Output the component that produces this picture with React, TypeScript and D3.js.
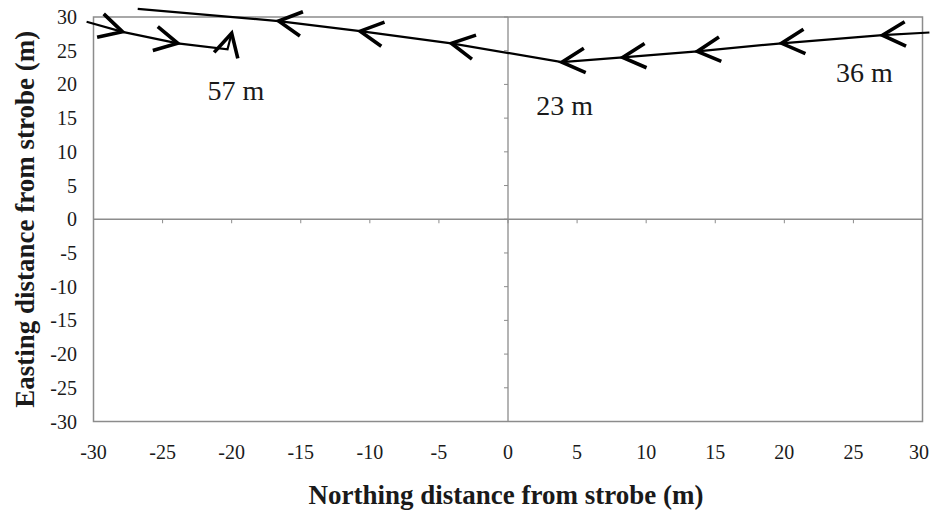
import React from "react";
import * as d3 from "d3";

const xTicks = [-30, -25, -20, -15, -10, -5, 0, 5, 10, 15, 20, 25, 30];
const yTicks = [30, 25, 20, 15, 10, 5, 0, -5, -10, -15, -20, -25, -30];

// Track moving right-to-left (23 m / 36 m)
const trackAx = [30.5, 27.1, 19.8, 13.7, 8.3, 3.9, -4.1, -10.7, -16.6, -26.8];
const trackAy = [27.7, 27.3, 26.1, 24.9, 24.0, 23.3, 26.1, 27.9, 29.4, 31.2];
const trackAArrows = [false, true, true, true, true, true, true, true, true, false];

// Track moving left-to-right (57 m)
const trackBx = [-30.5, -27.9, -23.9, -20.3, -20.0];
const trackBy = [29.3, 27.8, 26.1, 25.2, 27.6];
const trackBArrows = [false, true, true, false, true];

const labelText = ["57 m", "23 m", "36 m"];
const labelX = [-19.7, 4.1, 25.8];
const labelY = [17.7, 15.5, 20.4];

const W = 930;
const H = 510;

export default function App() {
  const x = d3.scaleLinear().domain([-30, 30]).range([93.5, 922.5]);
  const y = d3.scaleLinear().domain([-30, 30]).range([421.5, 17]);
  const line = d3
    .line<[number, number]>()
    .x((d) => x(d[0]))
    .y((d) => y(d[1]));

  const arrowPaths = (xs: number[], ys: number[], flags: boolean[]) => {
    const out: string[] = [];
    for (let i = 1; i < xs.length; i++) {
      if (!flags[i]) continue;
      const tx = x(xs[i]);
      const ty = y(ys[i]);
      const px = x(xs[i - 1]);
      const py = y(ys[i - 1]);
      const th = Math.atan2(ty - py, tx - px);
      const L = 26;
      const a = (28 * Math.PI) / 180;
      const b = th + Math.PI;
      const x1 = tx + L * Math.cos(b + a);
      const y1 = ty + L * Math.sin(b + a);
      const x2 = tx + L * Math.cos(b - a);
      const y2 = ty + L * Math.sin(b - a);
      out.push(`M${x1},${y1}L${tx},${ty}L${x2},${y2}`);
    }
    return out;
  };

  const trackA = trackAx.map((v, i) => [v, trackAy[i]] as [number, number]);
  const trackB = trackBx.map((v, i) => [v, trackBy[i]] as [number, number]);
  const arrowsA = arrowPaths(trackAx, trackAy, trackAArrows);
  const arrowsB = arrowPaths(trackBx, trackBy, trackBArrows);

  const font = "'Liberation Serif', 'Times New Roman', serif";
  const axisColor = "#8c8c8c";
  const textColor = "#1a1a1a";

  return (
    <svg
      width={W}
      height={H}
      style={{ position: "absolute", left: 0, top: 0, background: "#fff" }}
      fontFamily={font}
    >
      <rect x={0} y={0} width={W} height={H} fill="#fff" />
      {/* plot box */}
      <rect
        x={x(-30)}
        y={y(30)}
        width={x(30) - x(-30)}
        height={y(-30) - y(30)}
        fill="none"
        stroke={axisColor}
        strokeWidth={1.5}
      />
      {/* zero axes */}
      <line x1={x(-30)} x2={x(30)} y1={y(0)} y2={y(0)} stroke={axisColor} strokeWidth={1.3} />
      <line x1={x(0)} x2={x(0)} y1={y(30)} y2={y(-30)} stroke={axisColor} strokeWidth={1.3} />
      {yTicks.map((t) => (
        <line key={"yt" + t} x1={x(0) - 4} x2={x(0)} y1={y(t)} y2={y(t)} stroke={axisColor} strokeWidth={1} />
      ))}
      {xTicks.map((t) => (
        <line key={"xt" + t} x1={x(t)} x2={x(t)} y1={y(0)} y2={y(0) + 4} stroke={axisColor} strokeWidth={1} />
      ))}
      {/* tick labels */}
      {yTicks.map((t) => (
        <text key={"yl" + t} x={77} y={y(t)} dy="0.35em" textAnchor="end" fontSize={20} fill={textColor}>
          {t}
        </text>
      ))}
      {xTicks.map((t) => (
        <text
          key={"xl" + t}
          x={t === 30 ? W - 1 : x(t)}
          y={459}
          textAnchor={t === 30 ? "end" : "middle"}
          fontSize={20}
          fill={textColor}
        >
          {t}
        </text>
      ))}
      {/* axis titles */}
      <text x={506} y={504} textAnchor="middle" fontSize={27} fontWeight="bold" fill={textColor}>
        Northing distance from strobe (m)
      </text>
      <text
        transform={`translate(34,${y(0)}) rotate(-90)`}
        textAnchor="middle"
        fontSize={27}
        fontWeight="bold"
        fill={textColor}
      >
        Easting distance from strobe (m)
      </text>
      {/* tracks */}
      <path d={line(trackA) || ""} fill="none" stroke="#000" strokeWidth={2.2} />
      <path d={line(trackB) || ""} fill="none" stroke="#000" strokeWidth={2.2} />
      {[...arrowsA, ...arrowsB].map((d, i) => (
        <path key={"ar" + i} d={d} fill="none" stroke="#000" strokeWidth={3.6} strokeLinejoin="miter" strokeLinecap="butt" />
      ))}
      {/* labels */}
      {labelText.map((t, i) => (
        <text key={"lb" + i} x={x(labelX[i])} y={y(labelY[i])} textAnchor="middle" fontSize={28} fill={textColor}>
          {t}
        </text>
      ))}
    </svg>
  );
}
